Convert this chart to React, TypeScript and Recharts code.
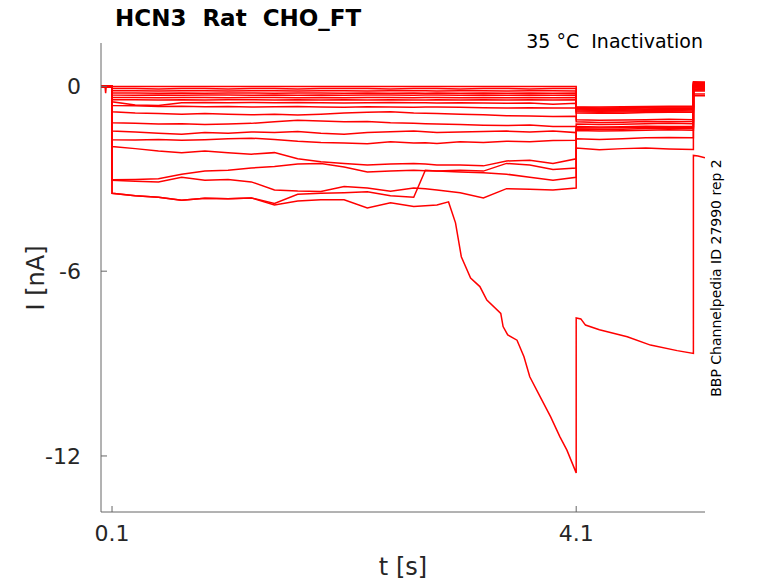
import { LineChart, Line, XAxis, YAxis } from 'recharts';

// time bases (s)
const preTimes = [0.005, 0.04, 0.045, 0.05, 0.099];
const stepTimes = [0.1, 0.3, 0.5, 0.7, 0.9, 1.1, 1.3, 1.5, 1.7, 1.9, 2.1, 2.3, 2.5, 2.7, 2.8, 2.9, 3.1, 3.3, 3.5, 3.7, 3.9, 4.1];
const tailTimes = [4.1, 4.3, 4.5, 4.7, 4.9, 5.11];
const postTimes = [5.11, 5.21];

const preFlat = [0, 0, 0, 0, 0];
const preBlip = [0, 0, -0.22, 0, 0];

// currents (nA) during the 0.1 - 4.1 s step, one row per sweep
const stepCurrents = [
    [0, 0, 0, 0, 0, 0, 0, 0, 0, 0, 0, 0, 0, 0, 0, 0, 0, 0, 0, 0, 0, 0],
    [-0.07, -0.07, -0.08, -0.07, -0.07, -0.08, -0.07, -0.07, -0.08, -0.07, -0.07, -0.07, -0.08, -0.07, -0.07, -0.07, -0.08, -0.07, -0.07, -0.08, -0.07, -0.07],
    [-0.14, -0.14, -0.15, -0.14, -0.14, -0.15, -0.14, -0.14, -0.15, -0.14, -0.14, -0.15, -0.14, -0.14, -0.14, -0.15, -0.14, -0.14, -0.15, -0.14, -0.14, -0.15],
    [-0.21, -0.21, -0.22, -0.21, -0.22, -0.21, -0.21, -0.22, -0.21, -0.21, -0.22, -0.21, -0.22, -0.21, -0.22, -0.21, -0.22, -0.21, -0.22, -0.21, -0.22, -0.21],
    [-0.28, -0.29, -0.28, -0.29, -0.28, -0.28, -0.29, -0.28, -0.29, -0.28, -0.29, -0.28, -0.28, -0.29, -0.28, -0.28, -0.29, -0.28, -0.29, -0.28, -0.29, -0.28],
    [-0.36, -0.36, -0.37, -0.36, -0.36, -0.37, -0.36, -0.36, -0.37, -0.36, -0.37, -0.36, -0.36, -0.37, -0.36, -0.36, -0.37, -0.36, -0.37, -0.36, -0.37, -0.36],
    [-0.43, -0.43, -0.44, -0.43, -0.44, -0.43, -0.43, -0.44, -0.43, -0.44, -0.43, -0.44, -0.43, -0.44, -0.44, -0.43, -0.44, -0.43, -0.44, -0.43, -0.44, -0.43],
    [-0.5, -0.6, -0.62, -0.53, -0.52, -0.53, -0.52, -0.53, -0.52, -0.53, -0.54, -0.53, -0.52, -0.53, -0.53, -0.54, -0.53, -0.54, -0.55, -0.54, -0.58, -0.55],
    [-0.62, -0.63, -0.65, -0.64, -0.66, -0.65, -0.67, -0.66, -0.65, -0.67, -0.68, -0.66, -0.67, -0.68, -0.67, -0.67, -0.68, -0.69, -0.7, -0.69, -0.7, -0.7],
    [-0.82, -0.86, -0.88, -0.9, -0.88, -0.9, -0.92, -0.9, -0.93, -0.9, -0.86, -0.84, -0.82, -0.86, -0.87, -0.88, -0.9, -0.92, -0.95, -0.96, -0.98, -0.97],
    [-1.18, -1.2, -1.22, -1.21, -1.24, -1.22, -1.2, -1.15, -1.1, -1.12, -1.15, -1.14, -1.18, -1.2, -1.21, -1.22, -1.24, -1.26, -1.27, -1.25, -1.3, -1.3],
    [-1.45, -1.48, -1.52, -1.55, -1.5, -1.52, -1.48, -1.5, -1.46, -1.52, -1.55, -1.5, -1.47, -1.45, -1.47, -1.5, -1.48, -1.46, -1.45, -1.48, -1.45, -1.5],
    [-1.73, -1.74, -1.72, -1.75, -1.73, -1.7, -1.68, -1.72, -1.78, -1.82, -1.84, -1.86, -1.8, -1.84, -1.83, -1.85, -1.8, -1.82, -1.78, -1.8, -1.76, -1.75],
    [-1.95, -2.02, -2.1, -2.15, -2.1, -2.15, -2.2, -2.15, -2.35, -2.45, -2.5, -2.55, -2.52, -2.5, -2.52, -2.55, -2.55, -2.58, -2.42, -2.4, -2.5, -2.35],
    [-3.03, -3.02, -3.0, -2.85, -2.75, -2.72, -2.65, -2.6, -2.52, -2.5, -2.62, -2.78, -2.75, -2.72, -2.74, -2.75, -2.78, -2.8, -2.85, -2.95, -3.05, -2.95],
    [-3.05, -3.08, -3.1, -2.95, -3.05, -3.02, -3.1, -3.36, -3.4, -3.41, -3.25, -3.3, -3.4, -3.3, -3.32, -3.36, -3.45, -3.62, -3.32, -3.34, -3.36, -3.3],
    [-3.47, -3.55, -3.6, -3.7, -3.63, -3.65, -3.62, -3.8, -3.5, -3.47, -3.45, -3.42, -3.55, -3.6, -2.72, -2.75, -2.72, -2.75, -2.5, -2.55, -2.7, -2.65],
];

// currents after the step (4.1 - 5.11 s)
const tailCurrents = [
    [-0.66, -0.67, -0.66, -0.65, -0.64, -0.64],
    [-0.68, -0.7, -0.69, -0.68, -0.67, -0.67],
    [-0.71, -0.72, -0.72, -0.7, -0.7, -0.69],
    [-0.73, -0.75, -0.74, -0.73, -0.72, -0.72],
    [-0.76, -0.78, -0.77, -0.76, -0.75, -0.74],
    [-0.79, -0.81, -0.8, -0.79, -0.78, -0.77],
    [-0.82, -0.84, -0.83, -0.82, -0.81, -0.8],
    [-0.86, -0.87, -0.87, -0.85, -0.84, -0.84],
    [-1.08, -1.1, -1.09, -1.08, -1.07, -1.08],
    [-1.15, -1.17, -1.16, -1.14, -1.15, -1.14],
    [-1.22, -1.24, -1.23, -1.21, -1.2, -1.21],
    [-1.3, -1.32, -1.31, -1.29, -1.3, -1.29],
    [-1.38, -1.4, -1.39, -1.37, -1.36, -1.37],
    [-1.7, -1.72, -1.7, -1.67, -1.66, -1.67],
    [-1.43, -1.45, -1.44, -1.42, -1.41, -1.42],
    [-2.0, -2.06, -2.02, -2.0, -2.03, -2.05],
    [-1.34, -1.35, -1.34, -1.33, -1.32, -1.33],
];

// currents after return to holding (5.11 - 5.21 s)
const postCurrents = [
    [0.15, 0.14], [0.1, 0.1], [0.05, 0.06], [0, 0.01], [-0.05, -0.04], [-0.1, -0.1], [-0.14, -0.15],
    [0.08, 0.08], [-0.25, -0.25], [-0.3, -0.3], [0.12, 0.12], [0.02, 0.03], [-0.08, -0.07],
    [0, 0], [-0.12, -0.12], [0.05, 0.05], [-0.03, -0.02],
];

// the sweep that runs away during the step
const bigTimes = [0.005, 0.099, 0.1, 0.3, 0.5, 0.7, 0.9, 1.1, 1.3, 1.5, 1.7, 1.9, 2.1, 2.3, 2.5, 2.7, 2.9,
    3.0, 3.06, 3.11, 3.19, 3.27, 3.33, 3.45, 3.47, 3.51, 3.59, 3.65, 3.7, 3.79, 3.88, 3.96, 4.02, 4.1,
    4.1, 4.14, 4.18, 4.3, 4.54, 4.74, 4.97, 5.11, 5.11, 5.15, 5.21];
const bigCurrents = [0, 0, -3.47, -3.55, -3.6, -3.7, -3.63, -3.65, -3.62, -3.85, -3.72, -3.68, -3.68, -3.95, -3.78, -3.9, -3.85,
    -3.75, -4.43, -5.53, -6.22, -6.5, -6.94, -7.37, -7.8, -8.07, -8.24, -8.78, -9.43, -10.08, -10.73, -11.38, -11.81, -12.55,
    -7.52, -7.55, -7.75, -7.9, -8.13, -8.4, -8.58, -8.67, -2.24, -2.26, -2.32];

const xTicks = [0.1, 4.1];
const yTicks = [-12, -6, 0];

const sweeps = stepCurrents.map((step, i) => {
    const pre = i === 0 ? preBlip : preFlat;
    return [
        ...preTimes.map((t, k) => ({ t, v: pre[k] })),
        ...stepTimes.map((t, k) => ({ t, v: step[k] })),
        ...tailTimes.map((t, k) => ({ t, v: tailCurrents[i][k] })),
        ...postTimes.map((t, k) => ({ t, v: postCurrents[i][k] })),
    ];
});
sweeps.push(bigTimes.map((t, k) => ({ t, v: bigCurrents[k] })));

const font = 'DejaVu Sans, sans-serif';
const axisColor = '#666666';
const textColor = '#262626';

const XTick = (props: any) => {
    const { x, y, payload } = props;
    return (
        <g>
            <line x1={x} y1={y} x2={x} y2={y - 6} stroke={axisColor} />
            <text x={x} y={y + 29} textAnchor="middle" fontSize={22} fontFamily={font} fill={textColor}>
                {payload.value}
            </text>
        </g>
    );
};

const YTick = (props: any) => {
    const { x, y, payload } = props;
    return (
        <g>
            <line x1={x} y1={y} x2={x + 6} y2={y} stroke={axisColor} />
            <text x={x - 20} y={y + 8} textAnchor="end" fontSize={22} fontFamily={font} fill={textColor}>
                {payload.value}
            </text>
        </g>
    );
};

export default function App() {
    return (
        <div style={{ position: 'absolute', left: 0, top: 0, width: 778, height: 583, background: '#fff', fontFamily: font, color: textColor }}>
            <LineChart width={778} height={583} margin={{ top: 43, right: 73, bottom: 41, left: 41 }}>
                <XAxis
                    type="number"
                    dataKey="t"
                    domain={[0.005, 5.21]}
                    ticks={xTicks}
                    allowDataOverflow
                    height={30}
                    tickSize={0}
                    tickMargin={0}
                    tickLine={false}
                    tick={<XTick />}
                    axisLine={{ stroke: axisColor }}
                />
                <YAxis
                    type="number"
                    domain={[-13.82, 1.41]}
                    ticks={yTicks}
                    allowDataOverflow
                    width={60}
                    tickSize={0}
                    tickMargin={0}
                    tickLine={false}
                    tick={<YTick />}
                    axisLine={{ stroke: axisColor }}
                />
                {sweeps.map((d, i) => (
                    <Line
                        key={i}
                        data={d}
                        dataKey="v"
                        type="linear"
                        stroke="#ff0000"
                        strokeWidth={1.5}
                        dot={false}
                        activeDot={false}
                        isAnimationActive={false}
                    />
                ))}
            </LineChart>
            <div style={{ position: 'absolute', left: 115, top: 7, fontSize: 23, fontWeight: 'bold', lineHeight: '23px', whiteSpace: 'pre', color: '#000' }}>
                HCN3  Rat  CHO_FT
            </div>
            <div style={{ position: 'absolute', right: 75, top: 32, fontSize: 19, lineHeight: '19px', whiteSpace: 'pre', color: '#000' }}>
                35 °C  Inactivation
            </div>
            <div style={{ position: 'absolute', left: 36, top: 278, fontSize: 24, lineHeight: '24px', whiteSpace: 'pre', transform: 'translate(-50%, -50%) rotate(-90deg)' }}>
                I [nA]
            </div>
            <div style={{ position: 'absolute', left: 403, top: 567, fontSize: 24, lineHeight: '24px', whiteSpace: 'pre', transform: 'translate(-50%, -50%)' }}>
                t [s]
            </div>
            <div style={{ position: 'absolute', left: 716, top: 278, fontSize: 14, lineHeight: '14px', whiteSpace: 'pre', color: '#000', transform: 'translate(-50%, -50%) rotate(-90deg)' }}>
                BBP Channelpedia ID 27990 rep 2
            </div>
        </div>
    );
}
